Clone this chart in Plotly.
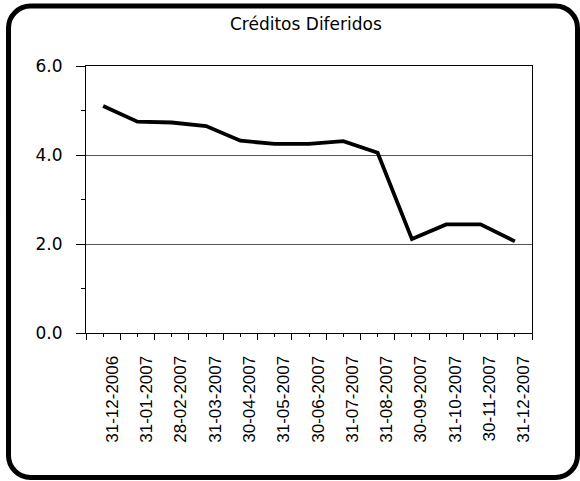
import plotly.graph_objects as go

dates = ["31-12-2006", "31-01-2007", "28-02-2007", "31-03-2007", "30-04-2007",
         "31-05-2007", "30-06-2007", "31-07-2007", "31-08-2007", "30-09-2007",
         "31-10-2007", "30-11-2007", "31-12-2007"]
values = [5.10, 4.75, 4.73, 4.65, 4.32, 4.25, 4.25, 4.31, 4.05, 2.11, 2.44, 2.44, 2.06]
y_ticks = [0, 2, 4, 6]
y_minor = [1, 3, 5]
title = "Créditos Diferidos"

W, H = 580, 481
L, R, T, B = 86, 532, 66, 333

def px(x):
    return (x - L) / (R - L)

def py(y):
    return (B - y) / (B - T)

idx = list(range(len(dates)))
bounds = [i - 0.5 for i in range(len(dates) + 1)]

fig = go.Figure()
fig.add_trace(go.Scatter(x=idx, y=values, mode="lines",
                         line=dict(color="black", width=3.8), hoverinfo="skip"))

# rounded outer frame
x0, x1, y0, y1, r = 8.5, 577.5, 6, 477.5, 22
k = 0.45
path = (f"M {px(x0+r)},{py(y0)} L {px(x1-r)},{py(y0)} "
        f"C {px(x1-r*k)},{py(y0)} {px(x1)},{py(y0+r*k)} {px(x1)},{py(y0+r)} "
        f"L {px(x1)},{py(y1-r)} "
        f"C {px(x1)},{py(y1-r*k)} {px(x1-r*k)},{py(y1)} {px(x1-r)},{py(y1)} "
        f"L {px(x0+r)},{py(y1)} "
        f"C {px(x0+r*k)},{py(y1)} {px(x0)},{py(y1-r*k)} {px(x0)},{py(y1-r)} "
        f"L {px(x0)},{py(y0+r)} "
        f"C {px(x0)},{py(y0+r*k)} {px(x0+r*k)},{py(y0)} {px(x0+r)},{py(y0)} Z")
fig.add_shape(type="path", xref="paper", yref="paper", path=path,
              line=dict(color="black", width=5), layer="above")

fig.add_annotation(text=title, xref="paper", yref="paper", x=px(306), y=py(24),
                   showarrow=False, xanchor="center", yanchor="middle",
                   font=dict(family="DejaVu Sans", size=17, color="black"))

fig.update_layout(
    width=W, height=H,
    margin=dict(l=L, r=W - R, t=T, b=H - B, pad=0),
    paper_bgcolor="white", plot_bgcolor="white",
    showlegend=False,
)
fig.update_xaxes(
    range=[-0.5, len(dates) - 0.5],
    tickmode="array", tickvals=idx, ticktext=dates,
    tickangle=-90, ticks="outside", ticklen=3, tickcolor="black", tickwidth=1,
    ticklabelstandoff=12, ticklabelshift=9,
    minor=dict(tickmode="array", tickvals=bounds, ticks="outside", ticklen=6,
               tickcolor="black", tickwidth=1, showgrid=False),
    showline=True, linecolor="black", linewidth=1, mirror=True,
    showgrid=False, zeroline=False,
    tickfont=dict(family="Liberation Sans, Arial", size=17, color="black"),
)
fig.update_yaxes(
    range=[0, 6], tickmode="array", tickvals=y_ticks, tickformat=".1f",
    ticks="outside", ticklen=9, tickcolor="black", tickwidth=1,
    ticklabelstandoff=10,
    minor=dict(tickmode="array", tickvals=y_minor, ticks="outside", ticklen=4,
               tickcolor="black", tickwidth=1, showgrid=False),
    showline=True, linecolor="black", linewidth=1, mirror=True,
    showgrid=True, gridcolor="#555555", gridwidth=1, zeroline=False,
    tickfont=dict(family="DejaVu Sans", size=17, color="black"),
)

fig.write_html("out.html", config={"displayModeBar": False},
               post_script="document.body.style.margin='0px';")
